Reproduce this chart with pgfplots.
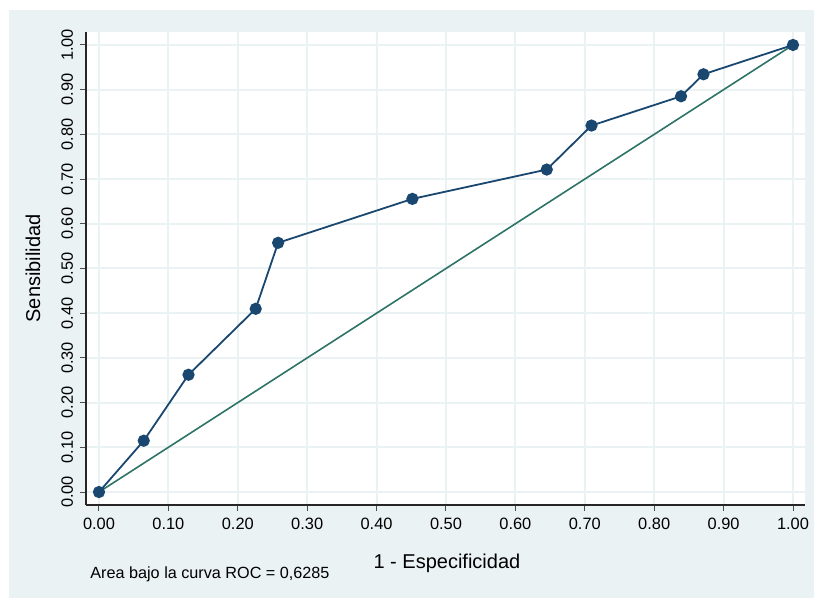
\documentclass[border=0pt]{standalone}
\usepackage{pgfplots}
\pgfplotsset{compat=1.18}
\usepackage{fontspec}
\setmainfont{Liberation Sans}
\definecolor{bgc}{HTML}{EAF2F3}
\definecolor{navy}{HTML}{1A476F}
\definecolor{teal}{HTML}{2E7466}
\begin{document}
\begin{tikzpicture}
\path[use as bounding box] (0pt,0pt) rectangle (407pt,299pt);
\fill[bgc] (4.5pt,0pt) rectangle (407pt,294pt);
\begin{axis}[
  at={(43pt,46.5pt)}, anchor=south west,
  scale only axis, width=359.5pt, height=236.5pt,
  xmin=-0.0187, xmax=1.0173, ymin=-0.029, ymax=1.029,
  axis x line*=bottom, axis y line*=left,
  axis line style={-, black!85, line width=0.6pt},
  axis background/.style={fill=white},
  xtick={0,0.1,...,1.01}, ytick={0,0.1,...,1.01},
  tick align=outside, major tick length=3pt,
  tick style={black!70, line width=0.5pt},
  grid=major, major grid style={bgc, line width=1pt},
  /pgf/number format/assume math mode=true,
  /pgf/number format/.cd, fixed, fixed zerofill, precision=2, /pgfplots/.cd,
  ticklabel style={font=\fontsize{8.2}{10}\selectfont},
  yticklabel style={rotate=90, anchor=south},
  xlabel={1 - Especificidad}, ylabel={Sensibilidad},
  xlabel style={at={(axis description cs:0.502,-0.123)}, anchor=center, font=\fontsize{10}{12}\selectfont},
  ylabel style={at={(axis description cs:-0.0737,0.5)}, anchor=center, rotate=0, font=\fontsize{10}{12}\selectfont},
  clip=false,
]
\addplot[teal, line width=0.8pt] coordinates {(0,0) (1,1)};
\addplot[navy, line width=0.9pt, mark=*, mark size=2.6pt, mark options={fill=navy, draw=navy}] coordinates {
(0,0) (0.0645,0.1148) (0.1290,0.2623) (0.2258,0.4098) (0.2581,0.5574)
(0.4516,0.6557) (0.6452,0.7213) (0.7097,0.8197) (0.8387,0.8852)
(0.8710,0.9344) (1,1)};
\node[anchor=west, inner sep=0pt, font=\fontsize{8.1}{10}\selectfont] at (axis description cs:0.0056,-0.146) {Area bajo la curva ROC = 0,6285};
\end{axis}
\end{tikzpicture}
\end{document}
